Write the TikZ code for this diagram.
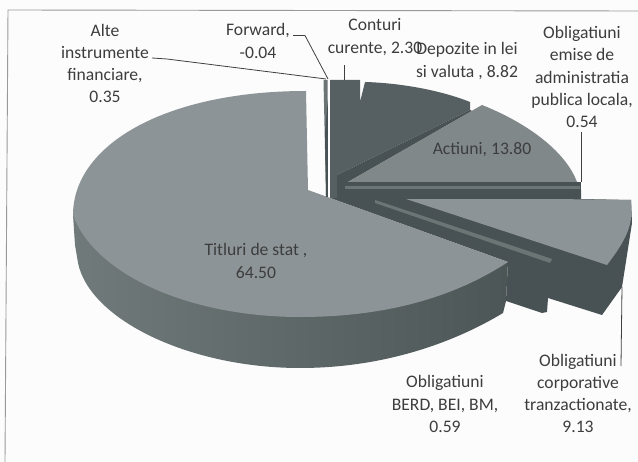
\documentclass[tikz,border=0pt]{standalone}
\usepackage{fontspec}
\setmainfont{Carlito}
\definecolor{txt}{gray}{0.24}
\definecolor{topg}{RGB}{141,148,151}
\definecolor{acti}{RGB}{128,136,138}
\definecolor{sidel}{RGB}{112,122,122}
\definecolor{sided}{RGB}{76,86,87}
\definecolor{darkg}{RGB}{72,81,83}
\definecolor{uppg}{RGB}{86,95,97}
\definecolor{midg}{RGB}{108,117,118}
\definecolor{paper}{gray}{0.99}
\tikzset{
 lbl/.style={align=center,text=txt,font=\fontsize{17.6}{22.3}\selectfont,inner sep=0pt},
 leader/.style={draw=black!75,line width=0.8pt},
 framel/.style={draw=black!40,line width=0.9pt}
}
\begin{document}
\begin{tikzpicture}[x=1pt,y=-1pt]
\useasboundingbox (0,0) rectangle (638,462);
\fill[paper] (0,0) rectangle (638,462);
\draw[framel] (638,11) -- (8,10) -- (5,462);
% main slice side
\shade[left color=sidel,middle color=sided,right color=sided]
  (73,215) -- (75,245) -- (78,263) .. controls (90,320) and (190,368) .. (300,368)
  .. controls (385,368) and (455,342) .. (503,313) -- (506,301) -- (508,262) -- (300,300) -- cycle;
% right block dark
\fill[darkg] (330,190) -- (581,190) -- (581,199) -- (631,200) -- (632,223)
  -- (622,287) -- (602,315) -- (548,298) -- (547,312) -- (542,313) -- (506,301) -- (508,262) -- (330,198) -- cycle;
% main slice top
\fill[topg] (306,91) -- (308,190) -- (508,262)
  .. controls (450,300) and (380,317) .. (300,317)
  .. controls (190,317) and (95,275) .. (73,215)
  .. controls (73,145) and (165,91) .. (306,91) -- cycle;
% corporate slice
\fill[topg] (400,197) -- (631,200) .. controls (633,222) and (630,235) .. (607,265) -- cycle;
% BERD strip
\fill[midg] (375,200) -- (552,259) -- (550,263) -- (375,203) -- cycle;
% upper dark slices
\fill[uppg] (330,80) -- (360,80) -- (360,102) -- (365,82)
  .. controls (400,83) and (440,90) .. (470,102) -- (470,110) -- (337,175) -- (337,198) -- (330,198) -- cycle;
\fill[darkg] (470,110) -- (472,111) -- (348,182) -- (337,185) -- (337,175) -- cycle;
% Actiuni
\fill[acti] (348,182) -- (482,105) .. controls (525,122) and (565,150) .. (577,182) -- cycle;
% emise bars
\fill[darkg] (337,182) rectangle (581,199);
\fill[midg] (345,186) rectangle (580,189);
% alte + forward strips
\fill[midg] (323.5,80) -- (327.5,80) -- (327.5,195) -- (326,195) -- cycle;
\fill[darkg] (325,133) -- (327.8,100) -- (327.8,197) -- (326,197) -- cycle;
% named anchors
\coordinate (alteEnd) at (326,79);
\coordinate (fwdEnd) at (328,79);
\coordinate (contEnd) at (344,80);
\coordinate (emEnd) at (581,182);
\coordinate (corpEnd) at (622,287);
% labels
\node[lbl] (alte) at (105,63.5) {Alte\\instrumente\\financiare,\\0.35};
\node[lbl] (fwd) at (258,41) {Forward,\\-0.04};
\node[lbl] (cont) at (375,37) {Conturi\\curente, 2.30};
\node[lbl] (depo) at (467,61) {Depozite in lei\\si valuta , 8.82};
\node[lbl] (emise) at (582,77) {Obligatiuni\\emise de\\administratia\\publica locala,\\0.54};
\node[lbl] (acti) at (482,150) {Actiuni, 13.80};
\node[lbl] (titl) at (256,261) {Titluri de stat ,\\64.50};
\node[lbl] (berd) at (445,404) {Obligatiuni\\BERD, BEI, BM,\\0.59};
\node[lbl] (corp) at (578,393.5) {Obligatiuni\\corporative\\tranzactionate,\\9.13};
% leaders
\draw[leader] ([xshift=3pt]alte.east |- 0,58) -- (167,59) -- (alteEnd);
\draw[leader] ([xshift=3pt]fwd.east |- 0,35.5) -- (305,35.5) -- (fwdEnd);
\draw[leader] (contEnd) -- (344,65);
\draw[leader] (emEnd) -- (581,132);
\draw[leader] (corpEnd) -- (621,366);
\end{tikzpicture}
\end{document}
